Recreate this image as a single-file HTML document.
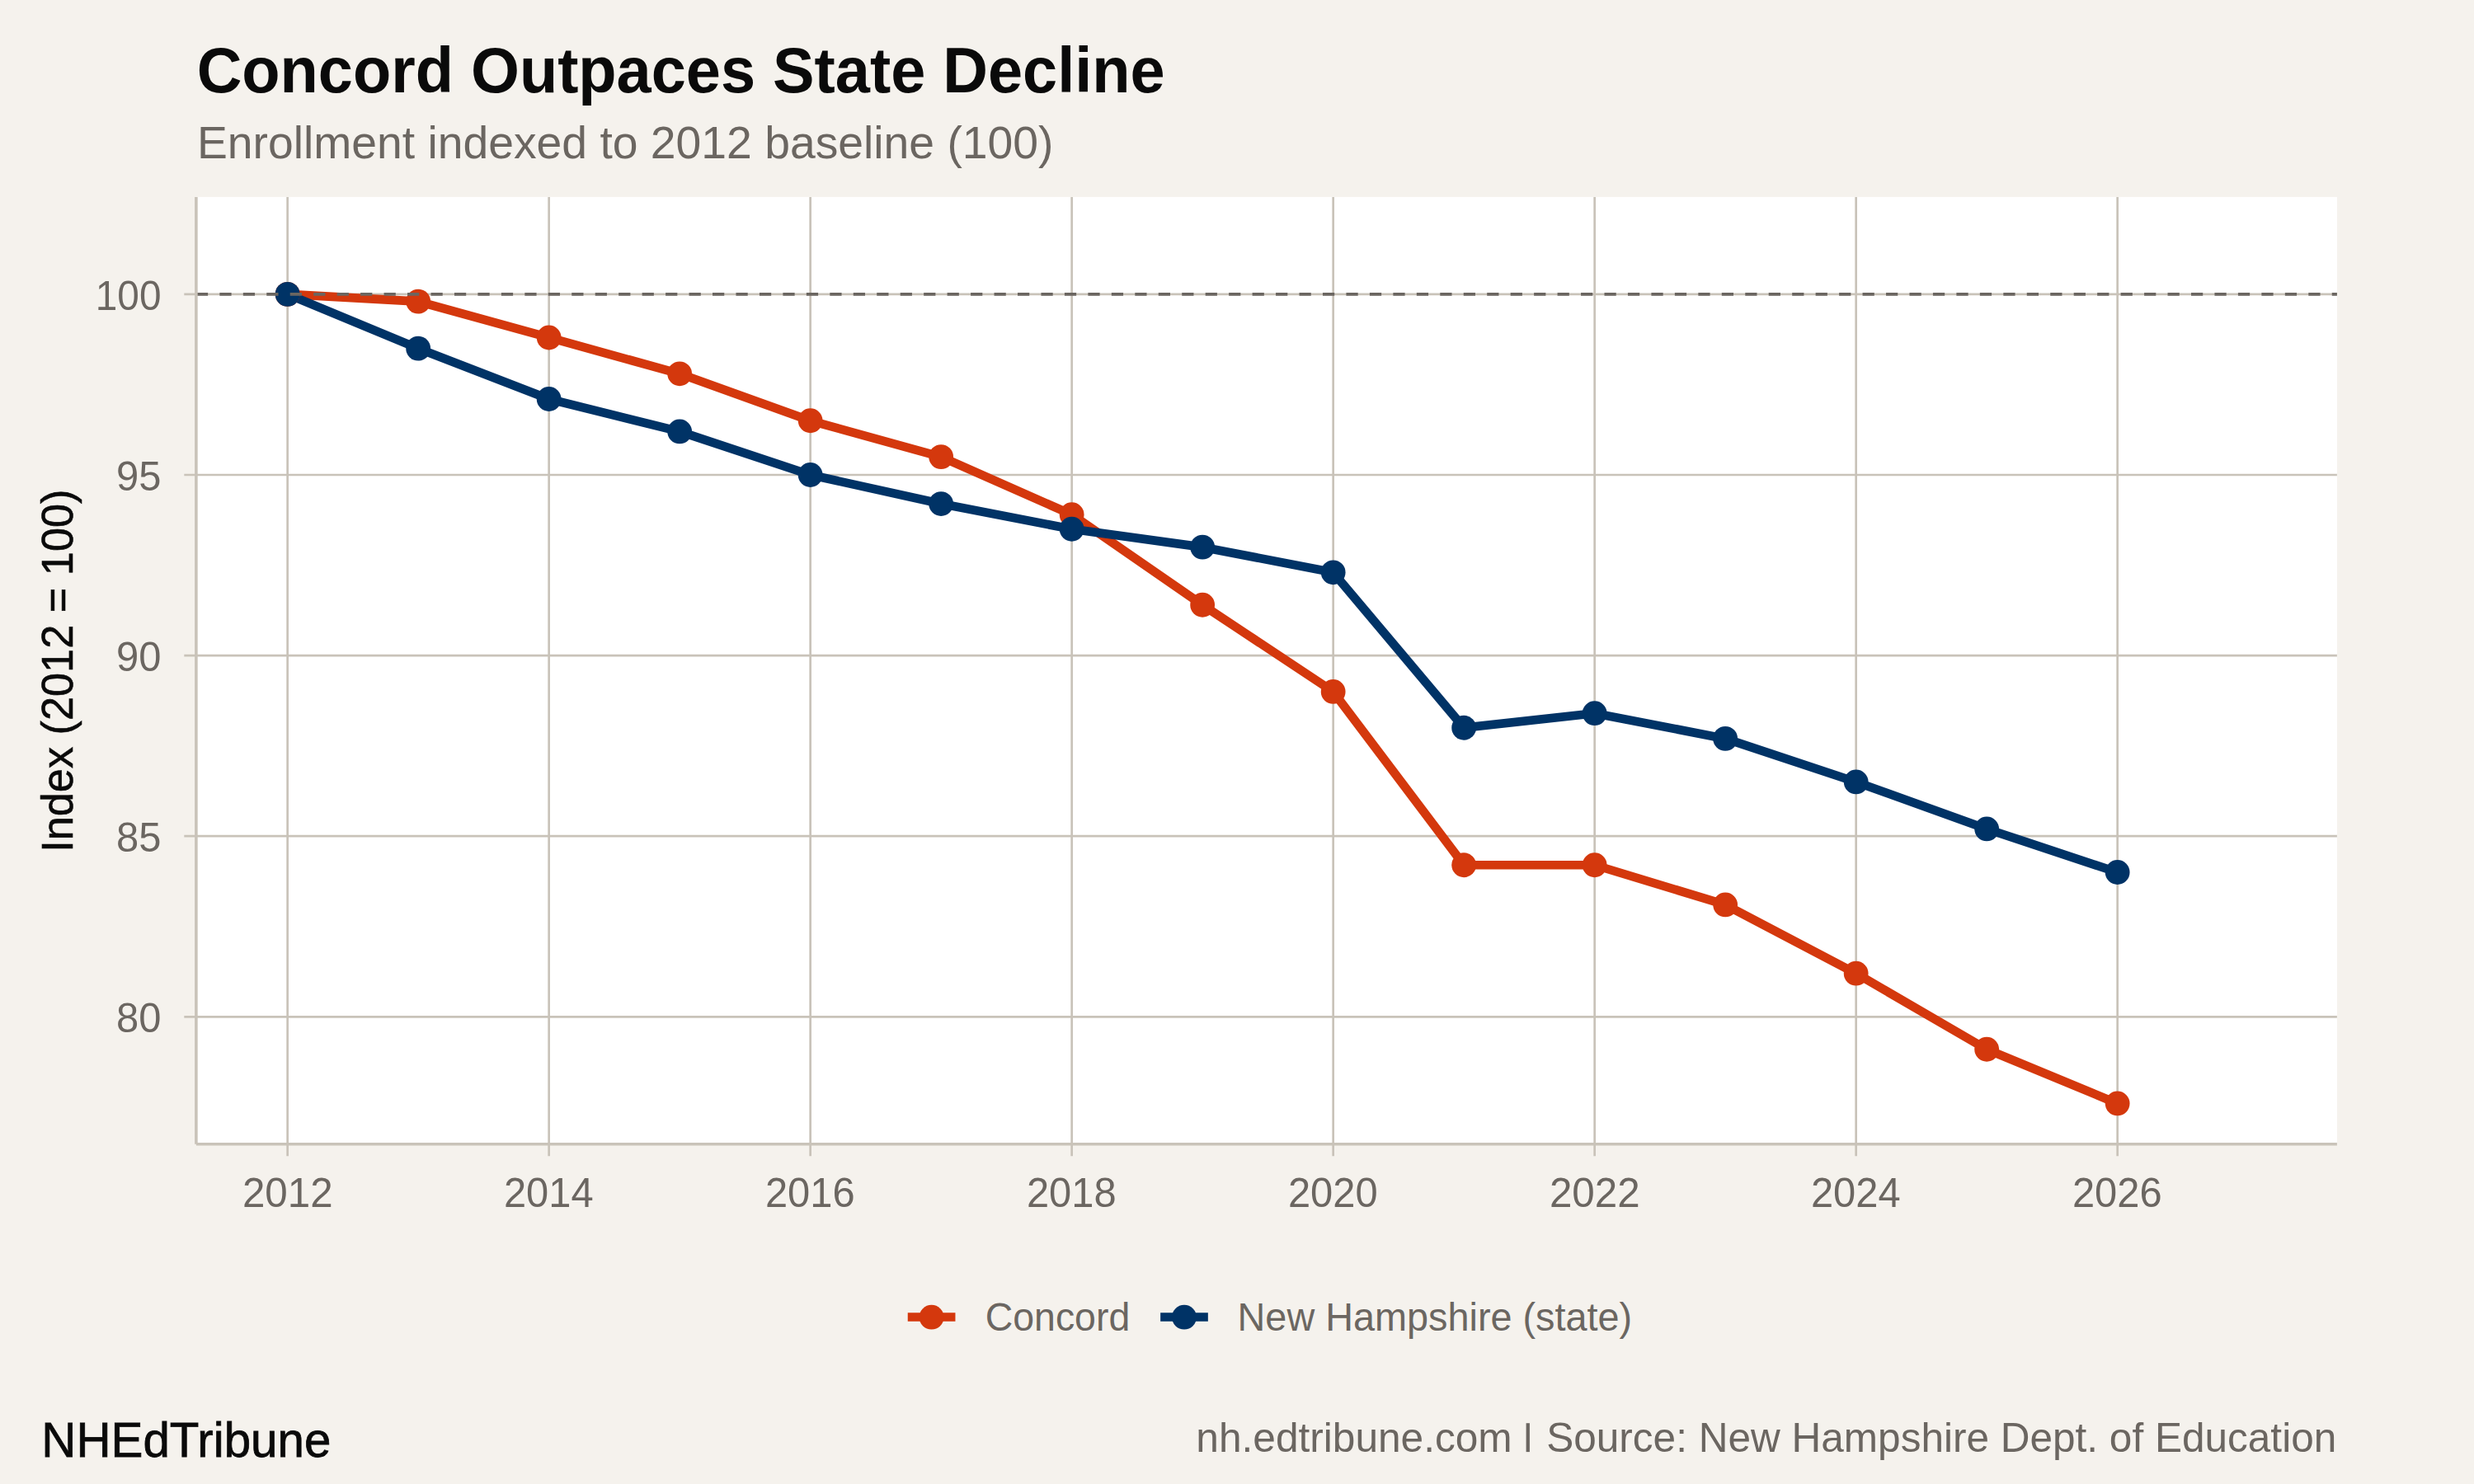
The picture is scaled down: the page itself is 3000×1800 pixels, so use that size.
<!DOCTYPE html>
<html><head><meta charset="utf-8"><title>Concord Outpaces State Decline</title>
<style>
html,body{margin:0;padding:0;background:#F5F2ED;}
body{width:3000px;height:1800px;overflow:hidden;}
svg{display:block;}
text{font-family:"Liberation Sans",sans-serif;}
</style></head><body>
<svg width="3000" height="1800" viewBox="0 0 3000 1800">
<rect x="0" y="0" width="3000" height="1800" fill="#F5F2ED"/>
<rect x="237.9" y="238.9" width="2596.0" height="1148.8" fill="#FFFFFF"/>

<g stroke="#C9C3B9" stroke-width="2.67" fill="none">
<line x1="223.30" x2="2833.9" y1="356.90" y2="356.90"/>
<line x1="223.30" x2="2833.9" y1="576.00" y2="576.00"/>
<line x1="223.30" x2="2833.9" y1="795.10" y2="795.10"/>
<line x1="223.30" x2="2833.9" y1="1014.20" y2="1014.20"/>
<line x1="223.30" x2="2833.9" y1="1233.30" y2="1233.30"/>
<line x1="348.65" x2="348.65" y1="238.9" y2="1402.35"/>
<line x1="665.65" x2="665.65" y1="238.9" y2="1402.35"/>
<line x1="982.65" x2="982.65" y1="238.9" y2="1402.35"/>
<line x1="1299.65" x2="1299.65" y1="238.9" y2="1402.35"/>
<line x1="1616.65" x2="1616.65" y1="238.9" y2="1402.35"/>
<line x1="1933.65" x2="1933.65" y1="238.9" y2="1402.35"/>
<line x1="2250.65" x2="2250.65" y1="238.9" y2="1402.35"/>
<line x1="2567.65" x2="2567.65" y1="238.9" y2="1402.35"/>
</g>
<path d="M348.65 356.90 L507.15 365.66 L665.65 409.48 L824.15 453.30 L982.65 510.27 L1141.15 554.09 L1299.65 624.20 L1458.15 733.75 L1616.65 838.92 L1775.15 1049.26 L1933.65 1049.26 L2092.15 1097.46 L2250.65 1180.72 L2409.15 1272.74 L2567.65 1338.47" fill="none" stroke="#D4380D" stroke-width="10.67" stroke-linejoin="round" stroke-linecap="butt"/>
<path d="M348.65 356.90 L507.15 422.63 L665.65 483.98 L824.15 523.42 L982.65 576.00 L1141.15 611.06 L1299.65 641.73 L1458.15 663.64 L1616.65 694.31 L1775.15 882.74 L1933.65 865.21 L2092.15 895.89 L2250.65 948.47 L2409.15 1005.44 L2567.65 1058.02" fill="none" stroke="#003366" stroke-width="10.67" stroke-linejoin="round" stroke-linecap="butt"/>
<g fill="#D4380D"><circle cx="348.65" cy="356.90" r="14.9"/><circle cx="507.15" cy="365.66" r="14.9"/><circle cx="665.65" cy="409.48" r="14.9"/><circle cx="824.15" cy="453.30" r="14.9"/><circle cx="982.65" cy="510.27" r="14.9"/><circle cx="1141.15" cy="554.09" r="14.9"/><circle cx="1299.65" cy="624.20" r="14.9"/><circle cx="1458.15" cy="733.75" r="14.9"/><circle cx="1616.65" cy="838.92" r="14.9"/><circle cx="1775.15" cy="1049.26" r="14.9"/><circle cx="1933.65" cy="1049.26" r="14.9"/><circle cx="2092.15" cy="1097.46" r="14.9"/><circle cx="2250.65" cy="1180.72" r="14.9"/><circle cx="2409.15" cy="1272.74" r="14.9"/><circle cx="2567.65" cy="1338.47" r="14.9"/></g>
<g fill="#003366"><circle cx="348.65" cy="356.90" r="14.9"/><circle cx="507.15" cy="422.63" r="14.9"/><circle cx="665.65" cy="483.98" r="14.9"/><circle cx="824.15" cy="523.42" r="14.9"/><circle cx="982.65" cy="576.00" r="14.9"/><circle cx="1141.15" cy="611.06" r="14.9"/><circle cx="1299.65" cy="641.73" r="14.9"/><circle cx="1458.15" cy="663.64" r="14.9"/><circle cx="1616.65" cy="694.31" r="14.9"/><circle cx="1775.15" cy="882.74" r="14.9"/><circle cx="1933.65" cy="865.21" r="14.9"/><circle cx="2092.15" cy="895.89" r="14.9"/><circle cx="2250.65" cy="948.47" r="14.9"/><circle cx="2409.15" cy="1005.44" r="14.9"/><circle cx="2567.65" cy="1058.02" r="14.9"/></g>
<line x1="237.9" x2="2833.9" y1="356.90" y2="356.90" stroke="#6B6661" stroke-width="3.56" stroke-dasharray="14.23 14.23"/>
<path d="M237.9 238.9 L237.9 1387.75 M237.9 1387.75 L2833.9 1387.75" fill="none" stroke="#C9C3B9" stroke-width="3.56" stroke-linecap="butt"/>
<text x="238.66" y="111.8" font-size="77.2" font-weight="bold" fill="#0A0A0A" textLength="1174.03" lengthAdjust="spacingAndGlyphs">Concord Outpaces State Decline</text>
<text x="238.98" y="191.7" font-size="56.4" fill="#6B6661" textLength="1038.44" lengthAdjust="spacingAndGlyphs">Enrollment indexed to 2012 baseline (100)</text>
<text x="115.78" y="375.80" font-size="49.1" fill="#6B6661" textLength="79.69" lengthAdjust="spacingAndGlyphs">100</text>
<text x="141.11" y="594.90" font-size="49.1" fill="#6B6661" textLength="54.39" lengthAdjust="spacingAndGlyphs">95</text>
<text x="141.11" y="814.00" font-size="49.1" fill="#6B6661" textLength="54.39" lengthAdjust="spacingAndGlyphs">90</text>
<text x="141.11" y="1033.10" font-size="49.1" fill="#6B6661" textLength="54.39" lengthAdjust="spacingAndGlyphs">85</text>
<text x="141.11" y="1252.20" font-size="49.1" fill="#6B6661" textLength="54.39" lengthAdjust="spacingAndGlyphs">80</text>
<text x="293.94" y="1463.8" font-size="49.1" fill="#6B6661" textLength="109.72" lengthAdjust="spacingAndGlyphs">2012</text>
<text x="610.96" y="1463.8" font-size="49.1" fill="#6B6661" textLength="108.69" lengthAdjust="spacingAndGlyphs">2014</text>
<text x="927.96" y="1463.8" font-size="49.1" fill="#6B6661" textLength="108.69" lengthAdjust="spacingAndGlyphs">2016</text>
<text x="1244.96" y="1463.8" font-size="49.1" fill="#6B6661" textLength="108.69" lengthAdjust="spacingAndGlyphs">2018</text>
<text x="1561.96" y="1463.8" font-size="49.1" fill="#6B6661" textLength="108.69" lengthAdjust="spacingAndGlyphs">2020</text>
<text x="1878.94" y="1463.8" font-size="49.1" fill="#6B6661" textLength="109.72" lengthAdjust="spacingAndGlyphs">2022</text>
<text x="2195.96" y="1463.8" font-size="49.1" fill="#6B6661" textLength="108.69" lengthAdjust="spacingAndGlyphs">2024</text>
<text x="2512.96" y="1463.8" font-size="49.1" fill="#6B6661" textLength="108.69" lengthAdjust="spacingAndGlyphs">2026</text>
<text transform="translate(88.0 1029.9) rotate(-90)" x="-3.92" y="0" font-size="53.4" fill="#0A0A0A" stroke="#0A0A0A" stroke-width="0.6" textLength="440.24" lengthAdjust="spacingAndGlyphs">Index (2012 = 100)</text>
<line x1="1100.75" x2="1158.45" y1="1597.5" y2="1597.5" stroke="#D4380D" stroke-width="10.67"/>
<circle cx="1129.6" cy="1597.7" r="14.9" fill="#D4380D"/>
<text x="1194.75" y="1614.4" font-size="47.6" fill="#6B6661" textLength="175.46" lengthAdjust="spacingAndGlyphs">Concord</text>
<line x1="1407.15" x2="1464.85" y1="1597.5" y2="1597.5" stroke="#003366" stroke-width="10.67"/>
<circle cx="1436.0" cy="1597.7" r="14.9" fill="#003366"/>
<text x="1500.55" y="1614.4" font-size="47.6" fill="#6B6661" textLength="478.65" lengthAdjust="spacingAndGlyphs">New Hampshire (state)</text>
<text x="1450.35" y="1761.0" font-size="50.5" fill="#6B6661" textLength="383.36" lengthAdjust="spacingAndGlyphs">nh.edtribune.com</text>
<rect x="1850.6" y="1726.2" width="4.3" height="34.9" fill="#6B6661"/>
<text x="1875.24" y="1761.0" font-size="50.5" fill="#6B6661" textLength="957.99" lengthAdjust="spacingAndGlyphs">Source: New Hampshire Dept. of Education</text>
<text x="50.36" y="1766.7" font-size="60.0" stroke="#0A0A0A" stroke-width="0.8" fill="#0A0A0A" textLength="350.94" lengthAdjust="spacingAndGlyphs">NHEdTribune</text>
</svg></body></html>
